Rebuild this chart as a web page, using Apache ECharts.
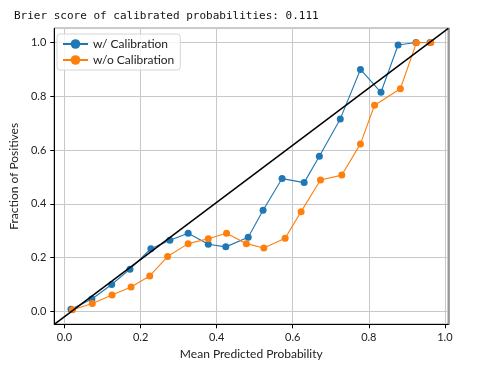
<!DOCTYPE html>
<html><head><meta charset="utf-8">
<script src="https://cdn.jsdelivr.net/npm/echarts@6/dist/echarts.min.js"></script>
<style>html,body{margin:0;padding:0;background:#fff}#c{width:481px;height:374px}</style>
</head><body><div id="c"></div>
<script>
const titleText = 'Brier score of calibrated probabilities: 0.111';
const xName = 'Mean Predicted Probability';
const yName = 'Fraction of Positives';
const seriesNames = ['w/ Calibration', 'w/o Calibration'];
const calX = [0.017,0.072,0.124,0.172,0.227,0.277,0.325,0.378,0.424,0.483,0.522,0.572,0.630,0.670,0.725,0.778,0.832,0.877,0.924,0.961];
const calY = [0.008,0.046,0.100,0.157,0.233,0.265,0.291,0.250,0.240,0.276,0.376,0.494,0.479,0.577,0.716,0.900,0.815,0.991,1.000,1.000];
const rawX = [0.021,0.073,0.125,0.175,0.224,0.271,0.325,0.378,0.426,0.478,0.524,0.580,0.622,0.673,0.729,0.778,0.815,0.883,0.925,0.963];
const rawY = [0.006,0.029,0.061,0.091,0.132,0.204,0.252,0.270,0.291,0.252,0.236,0.272,0.371,0.489,0.507,0.623,0.767,0.828,0.999,1.000];
const xLim = [-0.027, 1.009];
const yLim = [-0.048, 1.053];

const chart = echarts.init(document.getElementById('c'));
const font = 'Lato';
const zip = (a, b) => a.map((v, i) => [v, b[i]]);
const axisCommon = {
  type: 'value',
  splitNumber: 5,
  axisLine: {show: true, onZero: false, lineStyle: {color: '#000', width: 1}},
  axisTick: {show: true, length: 4, lineStyle: {color: '#000'}},
  axisLabel: {showMinLabel: false, showMaxLabel: false, fontFamily: font, fontSize: 11, color: '#222', formatter: v => v.toFixed(1)},
  splitLine: {show: true, lineStyle: {color: '#c8c8c8', width: 1}},
  nameLocation: 'middle',
  nameTextStyle: {fontFamily: font, fontSize: 12, color: '#222'}
};
chart.setOption({
  animation: false,
  title: {text: titleText, left: 9, top: 6, textStyle: {fontFamily: 'DejaVu Sans Mono', fontSize: 11, fontWeight: 'normal', color: '#111'}},
  grid: {left: 52.7, right: 32.7, top: 28.3, bottom: 49.7, show: true, borderColor: '#000', borderWidth: 1},
  legend: {
    left: 57, top: 34, orient: 'vertical', itemGap: 4, itemWidth: 25, itemHeight: 12,
    padding: [4, 6, 4, 5],
    borderColor: '#d6d6d6', borderWidth: 1, borderRadius: 3, backgroundColor: 'rgba(255,255,255,0.8)',
    textStyle: {fontFamily: font, fontSize: 12, color: '#222'},
    data: seriesNames
  },
  xAxis: Object.assign({}, axisCommon, {min: xLim[0], max: xLim[1], name: xName, nameGap: 22}),
  yAxis: [
    Object.assign({}, axisCommon, {min: yLim[0], max: yLim[1], name: yName, nameGap: 29}),
    {type: 'value', position: 'right', min: yLim[0], max: yLim[1], axisLine: {show: true, onZero: false, lineStyle: {color: '#888', width: 1.5}}, axisTick: {show: false}, axisLabel: {show: false}, splitLine: {show: false}}
  ],
  series: [
    {name: seriesNames[0], type: 'line', data: zip(calX, calY), symbol: 'circle', symbolSize: 7,
     itemStyle: {color: '#1f77b4'}, lineStyle: {width: 1.1, color: '#1f77b4'}, z: 3},
    {name: seriesNames[1], type: 'line', data: zip(rawX, rawY), symbol: 'circle', symbolSize: 7,
     itemStyle: {color: '#ff7f0e'}, lineStyle: {width: 1.1, color: '#ff7f0e'}, z: 4},
    {name: 'diag', type: 'line', data: [[xLim[0], yLim[0]], [xLim[1], yLim[1]]], symbol: 'none',
     lineStyle: {color: '#000', width: 1.5}, z: 5, silent: true}
  ]
});
</script></body></html>
